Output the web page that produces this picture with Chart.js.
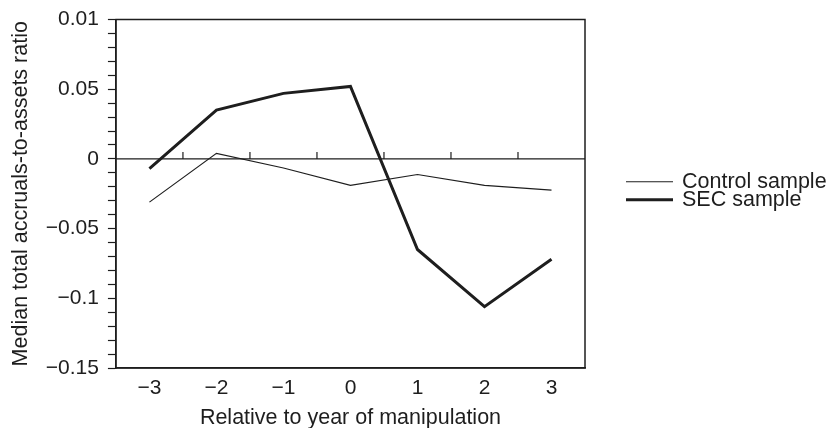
<!DOCTYPE html>
<html>
<head>
<meta charset="utf-8">
<script src="https://cdn.jsdelivr.net/npm/chart.js@4"></script>
<style>
  html, body { margin: 0; padding: 0; background: #fff; }
  #wrap { width: 827px; height: 428px; }
</style>
</head>
<body>
<div id="wrap"><canvas id="accrualsChart"></canvas></div>
<script>
// Years relative to the manipulation year
const years = ["\u22123", "\u22122", "\u22121", "0", "1", "2", "3"];

// Median total accruals-to-assets ratio
const controlSample = [-0.031, 0.004, -0.0065, -0.019, -0.0112, -0.019, -0.0224];
const secSample = [-0.007, 0.035, 0.047, 0.052, -0.065, -0.106, -0.072];

// Labelled y ticks (the top one is printed as "0.01" in the original)
const yTickValues = [0.1, 0.05, 0, -0.05, -0.1, -0.15];
const yTickLabels = ["0.01", "0.05", "0", "\u22120.05", "\u22120.1", "\u22120.15"];

const ink = "#1e1e1e";
const fontFamily = "'Liberation Sans', Arial, Helvetica, sans-serif";
Chart.defaults.font.family = fontFamily;
Chart.defaults.font.size = 21;
Chart.defaults.color = ink;

// Frame, zero line with its tick marks, and the legend on the right
const framePlugin = {
  id: "frame",
  beforeDatasetsDraw(chart) {
    const { ctx, chartArea: a, scales } = chart;
    const y0 = scales.y.getPixelForValue(0);
    ctx.save();
    ctx.strokeStyle = ink;
    ctx.lineWidth = 1.5;
    ctx.strokeRect(a.left, a.top, a.right - a.left, a.bottom - a.top);
    ctx.lineWidth = 1.2;
    ctx.beginPath();
    ctx.moveTo(a.left, y0);
    ctx.lineTo(a.right, y0);
    // ticks between categories
    for (let i = 0; i < years.length - 1; i++) {
      const x = (scales.x.getPixelForValue(i) + scales.x.getPixelForValue(i + 1)) / 2;
      ctx.moveTo(x, y0);
      ctx.lineTo(x, y0 - 7);
    }
    ctx.stroke();
    ctx.restore();
  },
  afterDraw(chart) {
    const { ctx, chartArea: a } = chart;
    const mid = (a.top + a.bottom) / 2;
    const x0 = a.right + 41;
    ctx.save();
    ctx.font = "21.5px " + fontFamily;
    ctx.fillStyle = ink;
    ctx.textBaseline = "middle";
    chart.data.datasets.forEach((ds, i) => {
      const yy = mid - 12 + i * 18;
      ctx.strokeStyle = ds.borderColor;
      ctx.lineWidth = ds.borderWidth;
      ctx.beginPath();
      ctx.moveTo(x0, yy);
      ctx.lineTo(x0 + 47, yy);
      ctx.stroke();
      ctx.fillText(ds.label, x0 + 56, yy);
    });
    ctx.restore();
  }
};

const config = {
  type: "line",
  data: {
    labels: years,
    datasets: [
      {
        label: "Control sample",
        data: controlSample,
        borderColor: ink,
        borderWidth: 1.2,
        pointRadius: 0,
        tension: 0,
        fill: false,
      },
      {
        label: "SEC sample",
        data: secSample,
        borderColor: ink,
        borderWidth: 3,
        pointRadius: 0,
        tension: 0,
        fill: false,
      },
    ],
  },
  options: {
    responsive: true,
    maintainAspectRatio: false,
    animation: false,
    layout: { padding: { top: 11, right: 242, bottom: 0, left: 4 } },
    plugins: {
      legend: { display: false },
      tooltip: { enabled: false },
    },
    scales: {
      x: {
        type: "category",
        offset: true,
        grid: { display: false, drawTicks: false },
        border: { display: true, color: ink, width: 1.5 },
        ticks: { padding: 8, color: ink },
        title: {
          display: true,
          text: "Relative to year of manipulation",
          color: ink,
          font: { size: 21.5 },
          padding: { top: -4, bottom: -3 },
        },
      },
      y: {
        min: -0.15,
        max: 0.1,
        grid: { drawOnChartArea: false, drawTicks: true, tickLength: 8, color: ink, tickWidth: 1.2 },
        border: { display: true, color: ink, width: 1.5 },
        ticks: {
          stepSize: 0.01,
          autoSkip: false,
          padding: 9,
          color: ink,
          font: { lineHeight: 1 },
          callback: (v) => {
            const k = yTickValues.findIndex((t) => Math.abs(t - v) < 1e-6);
            return k >= 0 ? yTickLabels[k] : "";
          },
        },
        title: {
          display: true,
          text: "Median total accruals-to-assets ratio",
          color: ink,
          font: { size: 21.5 },
          padding: { top: 4, bottom: 3 },
        },
      },
    },
  },
  plugins: [framePlugin],
};

const accrualsChart = new Chart(document.getElementById("accrualsChart"), config);
</script>
</body>
</html>
